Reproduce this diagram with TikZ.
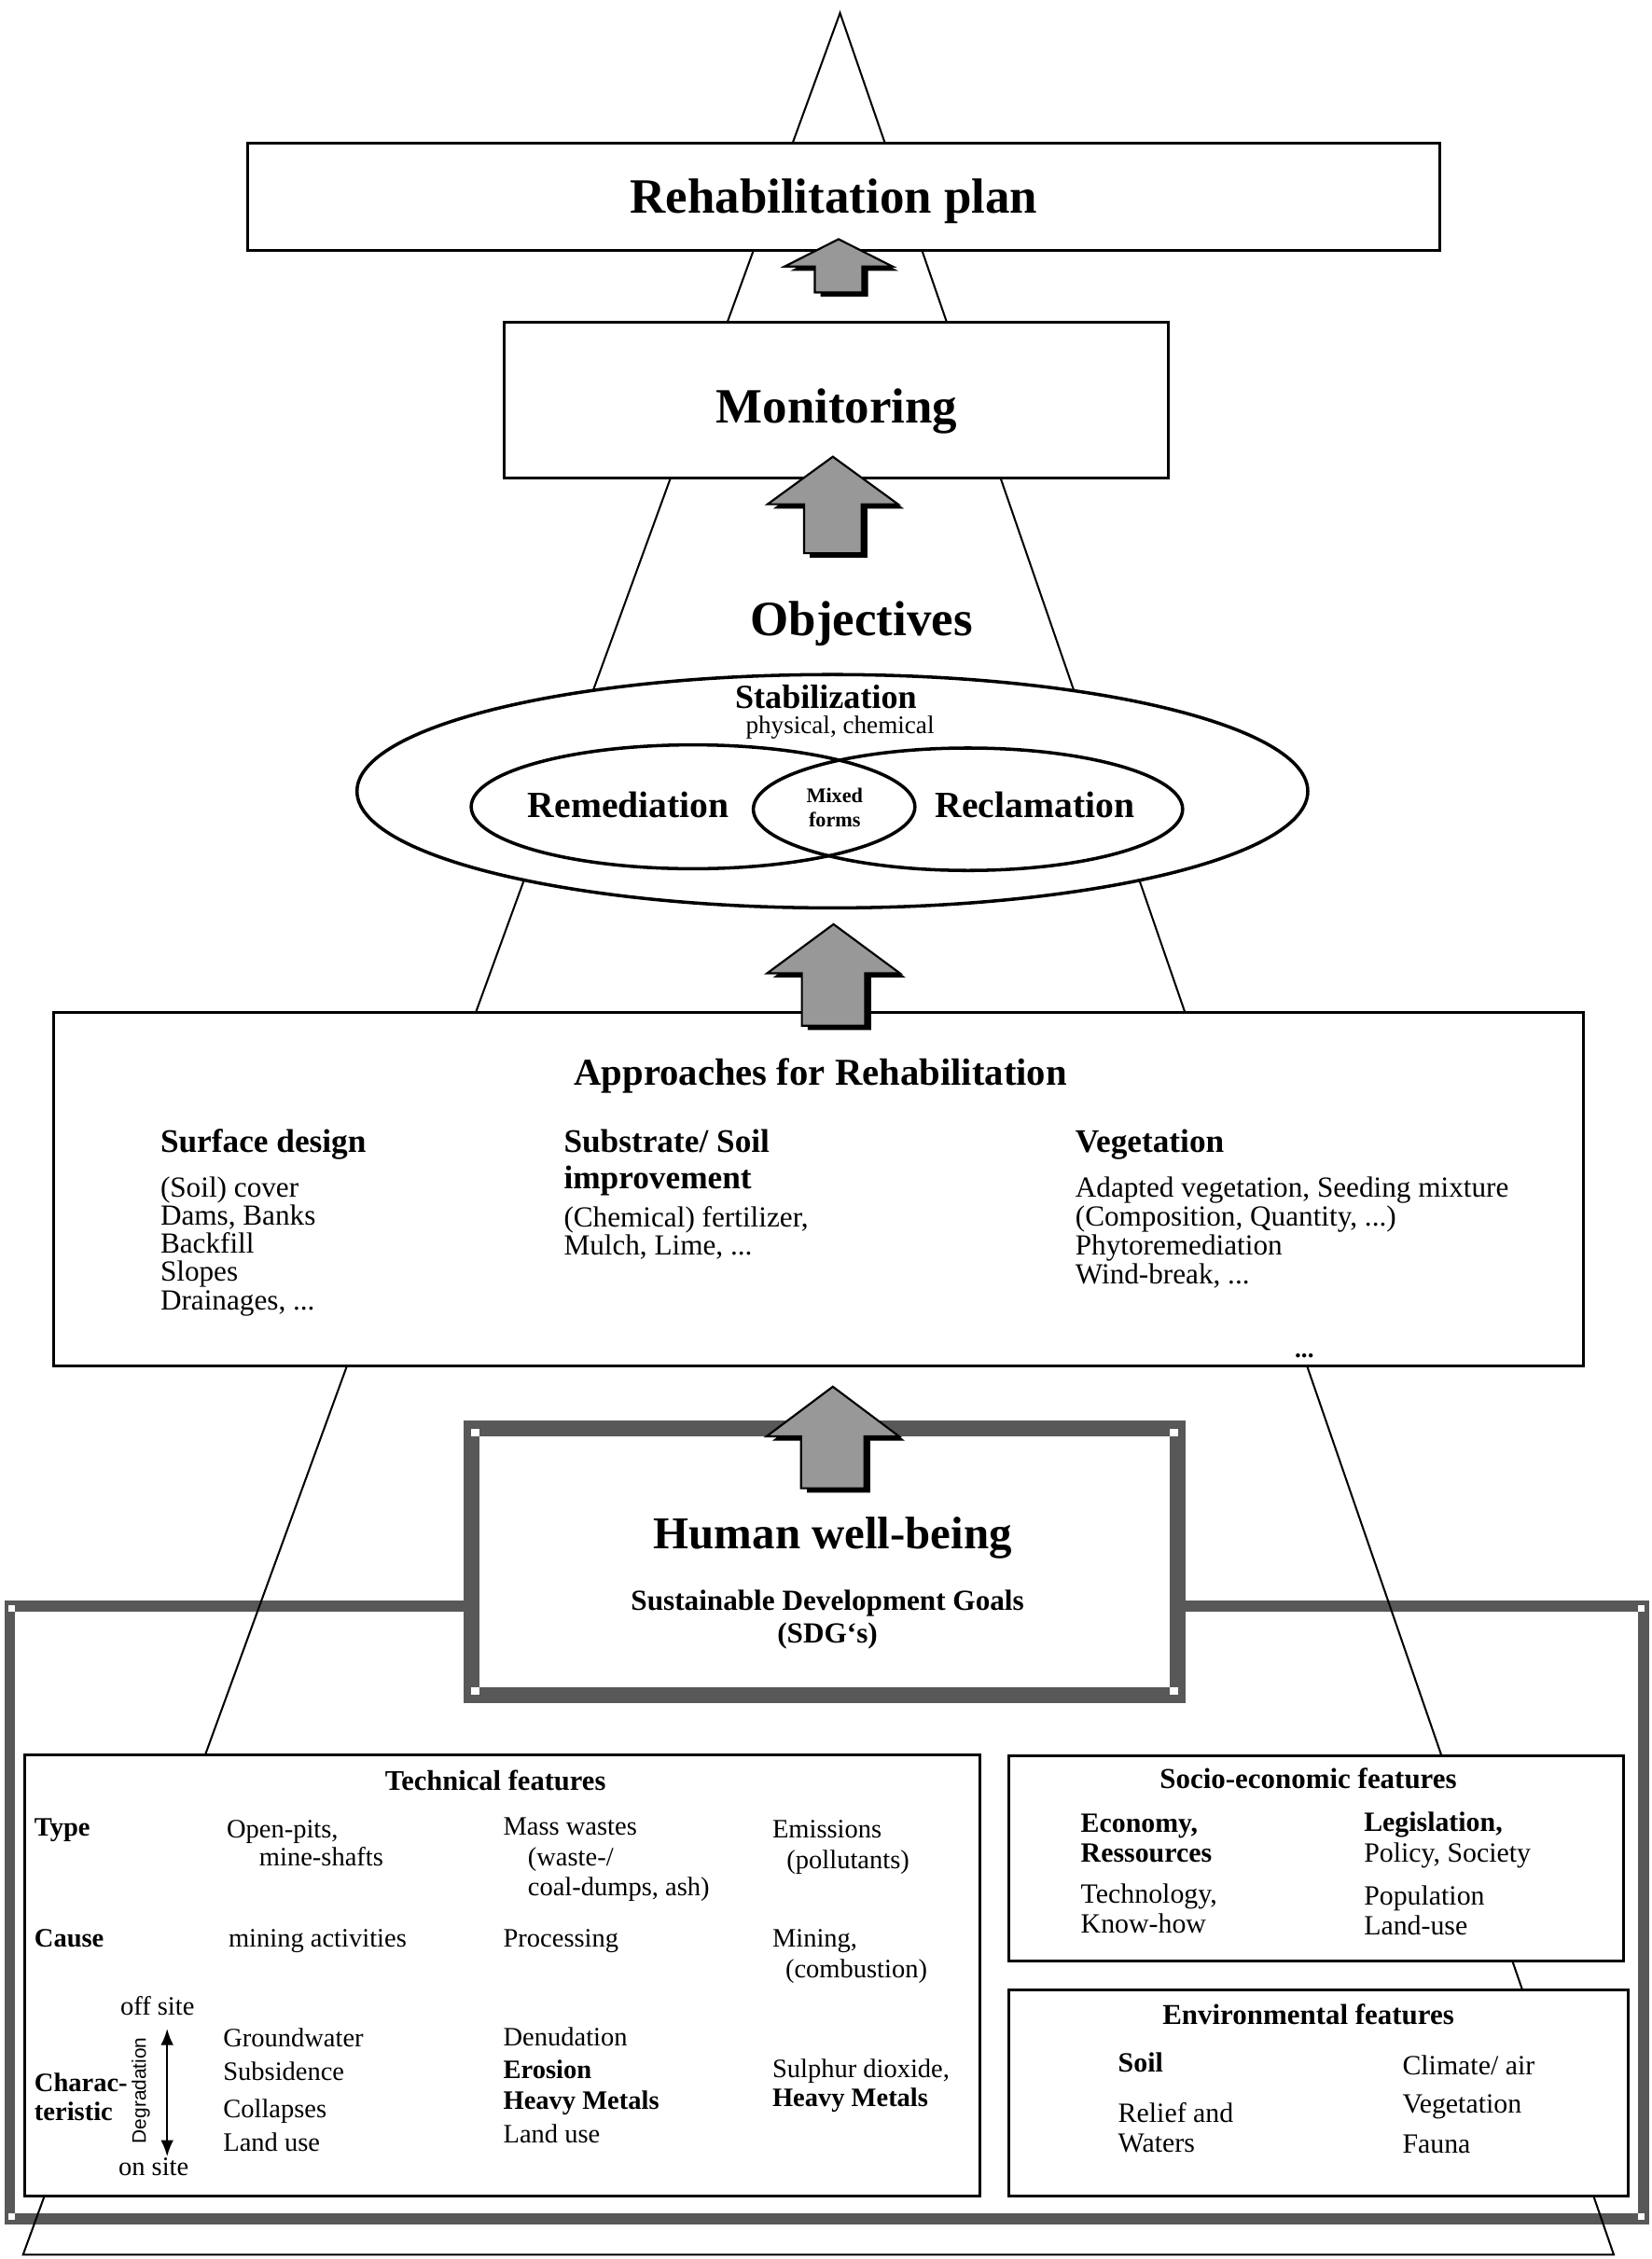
\documentclass[tikz,border=0pt]{standalone}
\usepackage{fontspec}
\setmainfont{Liberation Serif}
\newfontfamily\sansfont{Liberation Sans}
\usepackage{tikz}
\usetikzlibrary{calc,fit,shapes.geometric,arrows.meta}
\usepackage{xcolor}

\definecolor{framegray}{RGB}{88,88,88}
\definecolor{arrowgray}{RGB}{152,152,152}

\newcommand{\tsize}[1]{\fontsize{#1}{#1}\selectfont}
\newcommand{\etcdots}{...}
% block arrow: centre x, tip y, head base y, bottom y, head half width, shaft half width
\newcommand{\blockup}[6]{%
  \fill[black,shift={(4,3)}] (#1,#2) -- (#1+#5,#3) -- (#1+#6,#3) -- (#1+#6,#4) -- (#1-#6,#4) -- (#1-#6,#3) -- (#1-#5,#3) -- cycle;
  \filldraw[fill=arrowgray,draw=black,line width=0.8pt] (#1,#2) -- (#1+#5,#3) -- (#1+#6,#3) -- (#1+#6,#4) -- (#1-#6,#4) -- (#1-#6,#3) -- (#1-#5,#3) -- cycle;}

\begin{document}
\begin{tikzpicture}
[x=0.02cm,y=-0.02cm,>={Latex[length=6.5pt,width=5pt]},
box/.style={draw,fill=white,line width=1.1pt,inner sep=0pt},
gframe/.style={draw=framegray,line width=#1,inner sep=0pt},
oval/.style={ellipse,draw,line width=1.3pt,inner sep=0pt},
ctext/.style={font=\bfseries\tsize{#1},anchor=base,inner sep=0pt},
rtext/.style={font=\tsize{#1},anchor=base,inner sep=0pt},
item/.style={font=\tsize{#1},anchor=base west,inner sep=0pt},
bitem/.style={font=\bfseries\tsize{#1},anchor=base west,inner sep=0pt},]

\useasboundingbox (0,0) rectangle (1146,1568);

%Outer grey frame
\node (Frame) [gframe=4.25pt, fit={(6.75,1114.75)(1140.75,1540.25)}] {};

%Pyramid
\coordinate (Top) at (583,9);
\coordinate (BL) at (16,1565);
\coordinate (BR) at (1120,1565);
\draw[line width=0.75pt] (Top) -- (BL) -- (BR) -- cycle;

%Boxes
\node (Plan) [box, fit={(172,99.5)(999,174)}] {};
\node (Mon) [box, fit={(350,223.5)(810.6,332)}] {};
\node (Stab) at (577.7,549.2)[oval,fill=white,minimum width=13.2cm,minimum height=3.24cm] {};
\node (Remed) at (481,560)[oval,minimum width=6.16cm,minimum height=1.72cm] {};
\node (Recl) at (671.8,561.7)[oval,minimum width=5.96cm,minimum height=1.70cm] {};
\node (Appr) [box, fit={(37,703)(1099,948)}] {};
\node (Tech) [box, fit={(17,1218)(680,1524)}] {};
\node (Socio) [box, fit={(700,1218.6)(1127,1361)}] {};
\node (Env) [box, fit={(700,1381)(1130,1524)}] {};
\node (Human) [gframe=6.24pt, fill=white, fit={(327.5,991.5)(817.5,1176.5)}] {};

%corner marks
\foreach \x/\y in {327/991.5,812/991.5,327/1171,812/1171}
  \fill[white] (\x,\y) rectangle ++(5.5,5.5);
\foreach \x/\y in {6/1114,1137/1114,6/1536.5,1137/1536.5}
  \fill[white] (\x,\y) rectangle ++(4.5,4.5);

%Arrows
\blockup{582}{166}{185}{203}{37.5}{16.5}
\blockup{578}{317}{350}{384}{45.3}{20}
\blockup{578.5}{641.5}{675.5}{712}{46}{22}
\blockup{578}{962.5}{997}{1033}{46}{22}

%Top texts
\node (PlanT) at (578.7,148.2)[ctext=19.5] {Rehabilitation plan};
\node (MonT) at (580.7,293.8)[ctext=19.5] {Monitoring};
\node (ObjT) at (598,441.3)[ctext=19.5] {Objectives};
\node (StabT) at (573.2,492)[ctext=13.3] {Stabilization};
\node (StabS) at (583,509.3)[rtext=10] {physical, chemical};
\node (RemT) at (436.2,567.6)[ctext=14.6] {Remediation};
\node (RecT) at (718.3,567.6)[ctext=14.6] {Reclamation};
\node (Mix1) at (579.3,557.2)[ctext=8.2] {Mixed};
\node (Mix2) at (579.3,574)[ctext=8.2] {forms};

%Approaches
\node (ApprT) at (569.5,753.2)[ctext=15] {Approaches for Rehabilitation};
\node (Surf) at (111,799.6)[bitem=13] {Surface design};
\node (Subs) at (391,799.6)[bitem=13] {Substrate/ Soil};
\node (Impr) at (391,824.9)[bitem=13] {improvement};
\node (Veg) at (746,799.6)[bitem=13] {Vegetation};
\foreach \t [count=\i] in {{(Soil) cover},{Dams, Banks},Backfill,Slopes,{Drainages, \etcdots}}
  \node (surf\i) at (111,811.5+19.5*\i)[item=11.5] {\t};
\node (subs1) at (391,851.4)[item=11.5] {(Chemical) fertilizer,};
\node (subs2) at (391,870.8)[item=11.5] {Mulch, Lime, ...};
\foreach \t [count=\i] in {{Adapted vegetation, Seeding mixture},{(Composition, Quantity, \etcdots)},Phytoremediation,{Wind-break, \etcdots}}
  \node (veg\i) at (746,810.5+20.2*\i)[item=11.5] {\t};
\node (More) at (905.3,942)[ctext=10] {...};

%Human well-being
\node (HumT) at (578,1074.8)[ctext=18] {Human well-being};
\node (SDG1) at (574.3,1118)[ctext=11.5] {Sustainable Development Goals};
\node (SDG2) at (574.3,1140.6)[ctext=11.5] {(SDG‘s)};

%Technical features
\node (TechT) at (343.8,1242.7)[ctext=11.25] {Technical features};
\node (Type) at (23.6,1274.6)[bitem=10.5] {Type};
\node (Cause) at (23.6,1351.5)[bitem=10.5] {Cause};
\node (Char1) at (23.6,1452)[bitem=10.5] {Charac-};
\node (Char2) at (23.6,1471.6)[bitem=10.5] {teristic};
\node (t1) at (157,1275.8)[item=10.5] {Open-pits,};
\node (t2) at (179.6,1295.2)[item=10.5] {mine-shafts};
\node (t3) at (349,1274)[item=10.5] {Mass wastes};
\node (t4) at (366,1294.8)[item=10.5] {(waste-/};
\node (t5) at (366,1316)[item=10.5] {coal-dumps, ash)};
\node (t6) at (535.7,1275.8)[item=10.5] {Emissions};
\node (t7) at (545.7,1297.1)[item=10.5] {(pollutants)};
\node (c1) at (158.3,1351.5)[item=10.5] {mining activities};
\node (c2) at (349,1351.5)[item=10.5] {Processing};
\node (c3) at (535.7,1351.5)[item=10.5] {Mining,};
\node (c4) at (544.8,1372.8)[item=10.5] {(combustion)};
\node (Off) at (83.2,1398.8)[item=10.5] {off site};
\node (On) at (81.9,1509.9)[item=10.5] {on site};
\coordinate (DegUp) at (116,1408);
\coordinate (DegDn) at (116,1497);
\draw[<->,line width=0.9pt] (DegUp) -- (DegDn);
\node (Deg) at (97.8,1451)[rotate=90,font=\sansfont\tsize{7.7},inner sep=0pt] {Degradation};
\foreach \t/\y [count=\i] in {Groundwater/1420.5,Subsidence/1444.2,Collapses/1469.7,Land use/1492.9}
  \node (g\i) at (154.6,\y)[item=10.5] {\t};
\node (d1) at (349,1420.1)[item=10.5] {Denudation};
\node (d2) at (349,1442.5)[bitem=10.5] {Erosion};
\node (d3) at (349,1463.8)[bitem=10.5] {Heavy Metals};
\node (d4) at (349,1487.5)[item=10.5] {Land use};
\node (e1) at (535.7,1441.8)[item=10.5] {Sulphur dioxide,};
\node (e2) at (535.7,1462.2)[bitem=10.5] {Heavy Metals};

%Socio-economic features
\node (SocT) at (908,1241.5)[ctext=11.4] {Socio-economic features};
\node (s1) at (749.8,1271.6)[bitem=11] {Economy,};
\node (s2) at (749.8,1292.4)[bitem=11] {Ressources};
\node (s3) at (749.8,1321.2)[item=11] {Technology,};
\node (s4) at (749.8,1342)[item=11] {Know-how};
\node (s5) at (946.3,1271.1)[bitem=11] {Legislation,};
\node (s6) at (946.3,1292.4)[item=11] {Policy, Society};
\node (s7) at (946.3,1322.6)[item=11] {Population};
\node (s8) at (946.3,1343.2)[item=11] {Land-use};

%Environmental features
\node (EnvT) at (908,1405.4)[ctext=11.4] {Environmental features};
\node (n1) at (775.7,1438.5)[bitem=11] {Soil};
\node (n2) at (775.7,1473.3)[item=11] {Relief and};
\node (n3) at (775.7,1493.9)[item=11] {Waters};
\node (n4) at (973,1440.2)[item=11] {Climate/ air};
\node (n5) at (973,1466.9)[item=11] {Vegetation};
\node (n6) at (973,1494.6)[item=11] {Fauna};

\end{tikzpicture}
\end{document}
